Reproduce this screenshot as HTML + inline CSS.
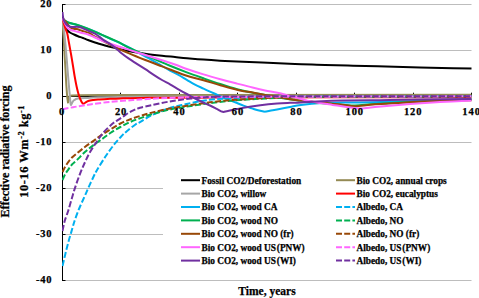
<!DOCTYPE html><html><head><meta charset="utf-8"><style>html,body{margin:0;padding:0;background:#fff;}svg{display:block;}</style></head><body>
<svg width="479" height="298" viewBox="0 0 479 298">
<rect width="479" height="298" fill="#fff"/>
<line x1="62" y1="4.5" x2="471.5" y2="4.5" stroke="#BDBDBD" stroke-width="1"/>
<line x1="62" y1="50.5" x2="471.5" y2="50.5" stroke="#BDBDBD" stroke-width="1"/>
<line x1="62" y1="142.5" x2="471.5" y2="142.5" stroke="#BDBDBD" stroke-width="1"/>
<line x1="62" y1="188.5" x2="471.5" y2="188.5" stroke="#BDBDBD" stroke-width="1"/>
<line x1="62" y1="234.5" x2="471.5" y2="234.5" stroke="#BDBDBD" stroke-width="1"/>
<line x1="62" y1="280.5" x2="471.5" y2="280.5" stroke="#BDBDBD" stroke-width="1"/>
<line x1="62" y1="4.5" x2="65.5" y2="4.5" stroke="#000" stroke-width="1"/>
<line x1="62" y1="50.5" x2="65.5" y2="50.5" stroke="#000" stroke-width="1"/>
<line x1="62" y1="96.5" x2="65.5" y2="96.5" stroke="#000" stroke-width="1"/>
<line x1="62" y1="142.5" x2="65.5" y2="142.5" stroke="#000" stroke-width="1"/>
<line x1="62" y1="188.5" x2="65.5" y2="188.5" stroke="#000" stroke-width="1"/>
<line x1="62" y1="234.5" x2="65.5" y2="234.5" stroke="#000" stroke-width="1"/>
<line x1="62" y1="280.5" x2="65.5" y2="280.5" stroke="#000" stroke-width="1"/>
<line x1="62" y1="96.5" x2="471.5" y2="96.5" stroke="#000" stroke-width="1"/>
<line x1="120.5" y1="92.70" x2="120.5" y2="96.50" stroke="#000" stroke-width="1"/>
<line x1="179.5" y1="92.70" x2="179.5" y2="96.50" stroke="#000" stroke-width="1"/>
<line x1="237.5" y1="92.70" x2="237.5" y2="96.50" stroke="#000" stroke-width="1"/>
<line x1="296.5" y1="92.70" x2="296.5" y2="96.50" stroke="#000" stroke-width="1"/>
<line x1="354.5" y1="92.70" x2="354.5" y2="96.50" stroke="#000" stroke-width="1"/>
<line x1="413.5" y1="92.70" x2="413.5" y2="96.50" stroke="#000" stroke-width="1"/>
<line x1="471.5" y1="92.70" x2="471.5" y2="96.50" stroke="#000" stroke-width="1"/>
<line x1="62.5" y1="4.00" x2="62.5" y2="281.00" stroke="#000" stroke-width="1"/>
<clipPath id="pc"><rect x="62" y="0" width="411" height="298"/></clipPath>
<g clip-path="url(#pc)" fill="none" stroke-width="2" stroke-linejoin="round">
<path d="M62.50,18.00 C62.67,18.75 63.08,21.00 63.50,22.50 C63.92,24.00 64.42,25.75 65.00,27.00 C65.58,28.25 66.17,29.08 67.00,30.00 C67.83,30.92 68.83,31.75 70.00,32.50 C71.17,33.25 72.67,33.88 74.00,34.50 C75.33,35.12 76.50,35.62 78.00,36.20 C79.50,36.78 81.33,37.37 83.00,38.00 C84.67,38.63 86.00,39.25 88.00,40.00 C90.00,40.75 92.17,41.58 95.00,42.50 C97.83,43.42 102.17,44.68 105.00,45.50 C107.83,46.32 109.50,46.78 112.00,47.40 C114.50,48.02 117.25,48.62 120.00,49.20 C122.75,49.78 125.67,50.37 128.50,50.90 C131.33,51.43 134.25,51.93 137.00,52.40 C139.75,52.87 140.83,53.15 145.00,53.70 C149.17,54.25 157.00,55.15 162.00,55.70 C167.00,56.25 170.83,56.58 175.00,57.00 C179.17,57.42 182.25,57.77 187.00,58.20 C191.75,58.63 198.00,59.18 203.50,59.60 C209.00,60.02 214.42,60.37 220.00,60.70 C225.58,61.03 230.00,61.28 237.00,61.60 C244.00,61.92 255.08,62.32 262.00,62.60 C268.92,62.88 273.00,63.08 278.50,63.30 C284.00,63.52 289.42,63.70 295.00,63.90 C300.58,64.10 307.00,64.33 312.00,64.50 C317.00,64.67 318.17,64.70 325.00,64.90 C331.83,65.10 342.83,65.42 353.00,65.70 C363.17,65.98 374.83,66.30 386.00,66.60 C397.17,66.90 408.83,67.23 420.00,67.50 C431.17,67.77 444.42,68.02 453.00,68.20 C461.58,68.38 468.42,68.53 471.50,68.60" stroke="#000000"/>
<path d="M62.50,18.00 L63.00,30.00 L63.80,40.00 L64.50,54.00 L65.50,70.00 L66.30,85.00 L67.20,97.00 L68.00,102.50 L68.80,99.50 L69.60,96.00 L72.00,95.50 L80.00,95.30 L100.00,95.10 L200.00,95.00 L471.50,94.80" stroke="#948A54"/>
<path d="M62.50,18.00 C62.75,20.00 63.50,25.50 64.00,30.00 C64.50,34.50 65.03,40.00 65.50,45.00 C65.97,50.00 66.38,55.00 66.80,60.00 C67.22,65.00 67.58,70.00 68.00,75.00 C68.42,80.00 68.93,85.83 69.30,90.00 C69.67,94.17 69.95,97.50 70.20,100.00 C70.45,102.50 70.47,104.57 70.80,105.00 C71.13,105.43 71.67,103.38 72.20,102.60 C72.73,101.82 73.03,100.97 74.00,100.30 C74.97,99.63 75.67,99.00 78.00,98.60 C80.33,98.20 84.67,98.12 88.00,97.90 C91.33,97.68 89.33,97.50 98.00,97.30 C106.67,97.10 114.67,96.83 140.00,96.70 C165.33,96.57 194.75,96.53 250.00,96.50 C305.25,96.47 434.58,96.50 471.50,96.50" stroke="#A6A6A6"/>
<path d="M62.50,18.00 C62.75,19.00 63.42,22.00 64.00,24.00 C64.58,26.00 65.43,28.33 66.00,30.00 C66.57,31.67 66.90,31.83 67.40,34.00 C67.90,36.17 68.40,39.67 69.00,43.00 C69.60,46.33 70.33,50.17 71.00,54.00 C71.67,57.83 72.40,62.33 73.00,66.00 C73.60,69.67 74.02,72.67 74.60,76.00 C75.18,79.33 75.90,83.17 76.50,86.00 C77.10,88.83 77.62,90.92 78.20,93.00 C78.78,95.08 79.30,96.80 80.00,98.50 C80.70,100.20 81.73,102.37 82.40,103.20 C83.07,104.03 83.40,103.67 84.00,103.50 C84.60,103.33 85.30,102.62 86.00,102.20 C86.70,101.78 87.03,101.37 88.20,101.00 C89.37,100.63 91.37,100.27 93.00,100.00 C94.63,99.73 95.17,99.60 98.00,99.40 C100.83,99.20 106.33,98.97 110.00,98.80 C113.67,98.63 115.00,98.55 120.00,98.40 C125.00,98.25 124.17,98.07 140.00,97.90 C155.83,97.73 159.75,97.50 215.00,97.40 C270.25,97.30 428.75,97.32 471.50,97.30" stroke="#FF0000"/>
<path d="M62.50,18.00 C62.75,18.33 63.42,19.42 64.00,20.00 C64.58,20.58 65.00,20.97 66.00,21.50 C67.00,22.03 68.17,22.62 70.00,23.20 C71.83,23.78 74.50,24.23 77.00,25.00 C79.50,25.77 82.17,26.77 85.00,27.80 C87.83,28.83 91.17,30.02 94.00,31.20 C96.83,32.38 99.33,33.67 102.00,34.90 C104.67,36.13 107.17,37.32 110.00,38.60 C112.83,39.88 116.17,41.28 119.00,42.60 C121.83,43.92 124.00,44.97 127.00,46.50 C130.00,48.03 134.00,50.17 137.00,51.80 C140.00,53.43 142.22,54.75 145.00,56.30 C147.78,57.85 150.87,59.48 153.70,61.10 C156.53,62.72 159.28,64.43 162.00,66.00 C164.72,67.57 167.33,69.07 170.00,70.50 C172.67,71.93 175.20,73.05 178.00,74.60 C180.80,76.15 183.97,78.13 186.80,79.80 C189.63,81.47 192.22,83.13 195.00,84.60 C197.78,86.07 201.00,87.43 203.50,88.60 C206.00,89.77 207.52,90.48 210.00,91.60 C212.48,92.72 215.60,94.07 218.40,95.30 C221.20,96.53 224.00,97.83 226.80,99.00 C229.60,100.17 232.42,101.20 235.20,102.30 C237.98,103.40 240.72,104.58 243.50,105.60 C246.28,106.62 249.48,107.62 251.90,108.40 C254.32,109.18 255.82,109.73 258.00,110.30 C260.18,110.87 263.83,111.55 265.00,111.80" stroke="#00B0F0"/>
<path d="M265.00,111.80 C266.00,111.60 268.98,111.00 271.00,110.60 C273.02,110.20 273.93,110.02 277.10,109.40 C280.27,108.78 286.03,107.65 290.00,106.90 C293.97,106.15 295.60,105.55 300.90,104.90 C306.20,104.25 314.85,103.38 321.80,103.00 C328.75,102.62 336.23,102.70 342.60,102.60 C348.97,102.50 350.43,102.58 360.00,102.40 C369.57,102.22 388.33,101.83 400.00,101.50 C411.67,101.17 418.08,100.72 430.00,100.40 C441.92,100.08 464.58,99.73 471.50,99.60" stroke="#00B0F0"/>
<path d="M62.50,266.00 C62.83,264.58 63.80,260.42 64.50,257.50 C65.20,254.58 65.98,251.33 66.70,248.50 C67.42,245.67 68.10,243.02 68.80,240.50 C69.50,237.98 70.27,235.57 70.90,233.40 C71.53,231.23 72.03,229.45 72.60,227.50 C73.17,225.55 73.32,224.58 74.30,221.70 C75.28,218.82 76.82,214.35 78.50,210.20 C80.18,206.05 82.73,200.57 84.40,196.80 C86.07,193.03 86.97,190.98 88.50,187.60 C90.03,184.22 92.20,179.40 93.60,176.50 C95.00,173.60 94.95,173.48 96.90,170.20 C98.85,166.92 102.50,160.98 105.30,156.80 C108.10,152.62 111.05,148.48 113.70,145.10 C116.35,141.72 118.97,138.85 121.20,136.50 C123.43,134.15 124.72,133.00 127.10,131.00 C129.48,129.00 133.35,125.97 135.50,124.50 C137.65,123.03 137.28,123.75 140.00,122.20 C142.72,120.65 147.05,117.50 151.80,115.20 C156.55,112.90 162.92,110.22 168.50,108.40 C174.08,106.58 179.70,105.55 185.30,104.30 C190.90,103.05 197.15,101.73 202.10,100.90 C207.05,100.07 208.68,99.82 215.00,99.30 C221.32,98.78 229.17,98.22 240.00,97.80 C250.83,97.38 241.42,97.05 280.00,96.80 C318.58,96.55 439.58,96.38 471.50,96.30" stroke="#00B0F0" stroke-dasharray="6 2.3"/>
<path d="M62.50,18.00 C62.75,18.33 63.42,19.45 64.00,20.00 C64.58,20.55 65.00,20.80 66.00,21.30 C67.00,21.80 68.20,22.42 70.00,23.00 C71.80,23.58 74.27,24.00 76.80,24.80 C79.33,25.60 82.42,26.73 85.20,27.80 C87.98,28.87 90.72,30.03 93.50,31.20 C96.28,32.37 99.10,33.58 101.90,34.80 C104.70,36.02 107.50,37.27 110.30,38.50 C113.10,39.73 115.90,40.82 118.70,42.20 C121.50,43.58 124.30,45.38 127.10,46.80 C129.90,48.22 132.47,49.33 135.50,50.70 C138.53,52.07 142.22,53.65 145.30,55.00 C148.38,56.35 151.20,57.58 154.00,58.80 C156.80,60.02 159.43,61.13 162.10,62.30 C164.77,63.47 165.88,64.12 170.00,65.80 C174.12,67.48 181.22,70.32 186.80,72.40 C192.38,74.48 197.92,76.37 203.50,78.30 C209.08,80.23 214.70,82.18 220.30,84.00 C225.90,85.82 232.15,87.83 237.10,89.20 C242.05,90.57 245.35,91.23 250.00,92.20 C254.65,93.17 260.00,94.07 265.00,95.00 C270.00,95.93 275.00,96.97 280.00,97.80 C285.00,98.63 290.00,99.38 295.00,100.00 C300.00,100.62 305.83,101.00 310.00,101.50 C314.17,102.00 315.00,102.50 320.00,103.00 C325.00,103.50 334.17,104.08 340.00,104.50 C345.83,104.92 349.17,105.58 355.00,105.50 C360.83,105.42 365.83,104.58 375.00,104.00 C384.17,103.42 393.92,102.75 410.00,102.00 C426.08,101.25 461.25,99.92 471.50,99.50" stroke="#00B050"/>
<path d="M62.50,180.00 C62.92,179.08 64.02,176.27 65.00,174.50 C65.98,172.73 67.23,171.07 68.40,169.40 C69.57,167.73 70.60,166.03 72.00,164.50 C73.40,162.97 74.60,162.32 76.80,160.20 C79.00,158.08 82.42,154.32 85.20,151.80 C87.98,149.28 90.72,147.20 93.50,145.10 C96.28,143.00 99.10,141.22 101.90,139.20 C104.70,137.18 107.22,135.03 110.30,133.00 C113.38,130.97 117.05,128.85 120.40,127.00 C123.75,125.15 127.13,123.35 130.40,121.90 C133.67,120.45 136.43,119.57 140.00,118.30 C143.57,117.03 147.05,115.72 151.80,114.30 C156.55,112.88 162.92,111.05 168.50,109.80 C174.08,108.55 179.70,107.72 185.30,106.80 C190.90,105.88 197.15,105.00 202.10,104.30 C207.05,103.60 208.68,103.32 215.00,102.60 C221.32,101.88 229.17,100.80 240.00,100.00 C250.83,99.20 266.67,98.32 280.00,97.80 C293.33,97.28 288.08,97.15 320.00,96.90 C351.92,96.65 446.25,96.40 471.50,96.30" stroke="#00B050" stroke-dasharray="6 2.3"/>
<path d="M62.50,18.00 C63.08,18.67 64.92,20.67 66.00,22.00 C67.08,23.33 68.00,24.92 69.00,26.00 C70.00,27.08 70.70,27.98 72.00,28.50 C73.30,29.02 75.45,28.83 76.80,29.10 C78.15,29.37 78.90,29.72 80.10,30.10 C81.30,30.48 82.45,30.90 84.00,31.40 C85.55,31.90 87.57,32.22 89.40,33.10 C91.23,33.98 91.27,34.63 95.00,36.70 C98.73,38.77 106.22,42.77 111.80,45.50 C117.38,48.23 122.92,50.68 128.50,53.10 C134.08,55.52 139.70,57.78 145.30,60.00 C150.90,62.22 157.98,64.82 162.10,66.40 C166.22,67.98 165.88,67.93 170.00,69.50 C174.12,71.07 181.22,74.02 186.80,75.80 C192.38,77.58 197.92,78.63 203.50,80.20 C209.08,81.77 214.22,83.48 220.30,85.20 C226.38,86.92 234.63,89.30 240.00,90.50 C245.37,91.70 248.32,91.67 252.50,92.40 C256.68,93.13 260.92,94.17 265.10,94.90 C269.28,95.63 273.43,96.07 277.60,96.80 C281.77,97.53 286.37,98.68 290.10,99.30 C293.83,99.92 295.02,99.98 300.00,100.50 C304.98,101.02 314.57,101.87 320.00,102.40 C325.43,102.93 328.42,103.28 332.60,103.70 C336.78,104.12 341.37,104.48 345.10,104.90 C348.83,105.32 350.02,106.30 355.00,106.20 C359.98,106.10 365.83,104.97 375.00,104.30 C384.17,103.63 400.83,102.70 410.00,102.20 C419.17,101.70 419.75,101.62 430.00,101.30 C440.25,100.98 464.58,100.47 471.50,100.30" stroke="#984807"/>
<path d="M62.50,172.00 C62.92,171.17 64.02,168.70 65.00,167.00 C65.98,165.30 67.23,163.38 68.40,161.80 C69.57,160.22 70.60,158.90 72.00,157.50 C73.40,156.10 74.60,155.20 76.80,153.40 C79.00,151.60 82.42,148.78 85.20,146.70 C87.98,144.62 90.98,142.72 93.50,140.90 C96.02,139.08 97.50,137.72 100.30,135.80 C103.10,133.88 106.95,131.45 110.30,129.40 C113.65,127.35 117.05,125.20 120.40,123.50 C123.75,121.80 127.13,120.45 130.40,119.20 C133.67,117.95 136.43,117.10 140.00,116.00 C143.57,114.90 147.05,113.80 151.80,112.60 C156.55,111.40 162.92,109.92 168.50,108.80 C174.08,107.68 179.70,106.80 185.30,105.90 C190.90,105.00 197.15,104.10 202.10,103.40 C207.05,102.70 208.68,102.35 215.00,101.70 C221.32,101.05 229.17,100.20 240.00,99.50 C250.83,98.80 266.67,97.95 280.00,97.50 C293.33,97.05 288.08,97.00 320.00,96.80 C351.92,96.60 446.25,96.38 471.50,96.30" stroke="#984807" stroke-dasharray="6 2.3"/>
<path d="M62.50,18.00 C62.75,18.58 63.50,20.42 64.00,21.50 C64.50,22.58 65.00,23.58 65.50,24.50 C66.00,25.42 66.50,26.28 67.00,27.00 C67.50,27.72 67.83,28.30 68.50,28.80 C69.17,29.30 69.75,29.57 71.00,30.00 C72.25,30.43 74.33,30.93 76.00,31.40 C77.67,31.87 79.00,32.28 81.00,32.80 C83.00,33.32 85.67,33.72 88.00,34.50 C90.33,35.28 92.50,36.42 95.00,37.50 C97.50,38.58 100.20,39.87 103.00,41.00 C105.80,42.13 107.55,42.87 111.80,44.30 C116.05,45.73 122.92,47.82 128.50,49.60 C134.08,51.38 139.70,53.23 145.30,55.00 C150.90,56.77 157.15,58.62 162.10,60.20 C167.05,61.78 170.88,63.03 175.00,64.50 C179.12,65.97 182.05,67.35 186.80,69.00 C191.55,70.65 197.92,72.70 203.50,74.40 C209.08,76.10 214.70,77.67 220.30,79.20 C225.90,80.73 231.73,82.22 237.10,83.60 C242.47,84.98 247.83,86.37 252.50,87.50 C257.17,88.63 260.92,89.52 265.10,90.40 C269.28,91.28 273.43,91.87 277.60,92.80 C281.77,93.73 286.37,95.05 290.10,96.00 C293.83,96.95 297.10,97.70 300.00,98.50 C302.90,99.30 304.15,100.05 307.50,100.80 C310.85,101.55 315.92,102.32 320.10,103.00 C324.28,103.68 328.43,104.27 332.60,104.90 C336.77,105.53 341.37,106.28 345.10,106.80 C348.83,107.32 352.10,107.72 355.00,108.00 C357.90,108.28 359.17,108.67 362.50,108.50 C365.83,108.33 367.08,107.75 375.00,107.00 C382.92,106.25 399.17,104.83 410.00,104.00 C420.83,103.17 429.75,102.58 440.00,102.00 C450.25,101.42 466.25,100.75 471.50,100.50" stroke="#FF66FF"/>
<path d="M62.50,109.30 C64.27,108.95 69.65,107.82 73.10,107.20 C76.55,106.58 79.80,106.13 83.20,105.60 C86.60,105.07 88.98,104.63 93.50,104.00 C98.02,103.37 104.70,102.38 110.30,101.80 C115.90,101.22 122.15,100.88 127.10,100.50 C132.05,100.12 134.52,99.87 140.00,99.50 C145.48,99.13 152.50,98.63 160.00,98.30 C167.50,97.97 175.83,97.72 185.00,97.50 C194.17,97.28 167.25,97.20 215.00,97.00 C262.75,96.80 428.75,96.42 471.50,96.30" stroke="#FF66FF" stroke-dasharray="6 2.3"/>
<path d="M62.50,12.00 C62.55,12.50 62.67,13.92 62.80,15.00 C62.93,16.08 63.07,17.47 63.30,18.50 C63.53,19.53 63.83,20.38 64.20,21.20 C64.57,22.02 64.95,22.68 65.50,23.40 C66.05,24.12 66.75,24.97 67.50,25.50 C68.25,26.03 69.02,26.33 70.00,26.60 C70.98,26.87 72.23,27.07 73.40,27.10 C74.57,27.13 75.73,26.73 77.00,26.80 C78.27,26.87 79.83,27.17 81.00,27.50 C82.17,27.83 82.75,28.25 84.00,28.80 C85.25,29.35 86.92,30.10 88.50,30.80 C90.08,31.50 92.08,32.30 93.50,33.00 C94.92,33.70 95.35,33.87 97.00,35.00 C98.65,36.13 100.93,38.12 103.40,39.80 C105.87,41.48 109.00,43.03 111.80,45.10 C114.60,47.17 117.42,49.98 120.20,52.20 C122.98,54.42 125.72,56.47 128.50,58.40 C131.28,60.33 134.10,62.00 136.90,63.80 C139.70,65.60 142.50,67.37 145.30,69.20 C148.10,71.03 150.92,73.00 153.70,74.80 C156.48,76.60 159.28,78.40 162.00,80.00 C164.72,81.60 167.27,82.85 170.00,84.40 C172.73,85.95 175.60,87.70 178.40,89.30 C181.20,90.90 183.53,92.22 186.80,94.00 C190.07,95.78 194.13,98.08 198.00,100.00 C201.87,101.92 206.88,104.03 210.00,105.50 C213.12,106.97 214.60,107.75 216.70,108.80 C218.80,109.85 220.92,111.40 222.60,111.80 C224.28,112.20 223.32,111.88 226.80,111.20 C230.28,110.52 237.92,108.70 243.50,107.70 C249.08,106.70 254.70,105.90 260.30,105.20 C265.90,104.50 272.15,103.90 277.10,103.50 C282.05,103.10 286.03,102.98 290.00,102.80 C293.97,102.62 295.60,102.67 300.90,102.40 C306.20,102.13 314.85,101.50 321.80,101.20 C328.75,100.90 332.90,100.77 342.60,100.60 C352.30,100.43 367.10,100.40 380.00,100.20 C392.90,100.00 404.75,99.60 420.00,99.40 C435.25,99.20 462.92,99.07 471.50,99.00" stroke="#7030A0"/>
<path d="M62.50,231.00 C62.65,230.25 63.12,227.83 63.40,226.50 C63.68,225.17 63.93,224.08 64.20,223.00 C64.47,221.92 64.30,222.13 65.00,220.00 C65.70,217.87 67.27,213.78 68.40,210.20 C69.53,206.62 70.68,202.27 71.80,198.50 C72.92,194.73 73.72,191.75 75.10,187.60 C76.48,183.45 78.42,177.90 80.10,173.60 C81.78,169.30 83.52,165.43 85.20,161.80 C86.88,158.17 88.25,155.18 90.20,151.80 C92.15,148.42 94.77,144.63 96.90,141.50 C99.03,138.37 100.52,135.87 103.00,133.00 C105.48,130.13 109.35,126.45 111.80,124.30 C114.25,122.15 115.75,121.42 117.70,120.10 C119.65,118.78 121.68,117.62 123.50,116.40 C125.32,115.18 126.88,113.83 128.60,112.80 C130.32,111.77 131.90,111.03 133.80,110.20 C135.70,109.37 137.00,108.65 140.00,107.80 C143.00,106.95 147.05,106.12 151.80,105.10 C156.55,104.08 162.92,102.68 168.50,101.70 C174.08,100.72 179.70,99.90 185.30,99.20 C190.90,98.50 197.15,97.90 202.10,97.50 C207.05,97.10 208.68,96.98 215.00,96.80 C221.32,96.62 197.25,96.50 240.00,96.40 C282.75,96.30 432.92,96.23 471.50,96.20" stroke="#7030A0" stroke-dasharray="6 2.3"/>
</g>
<text x="52.3" y="7.4" text-anchor="end" letter-spacing="0.8" font-size="10.5" font-family="Liberation Serif" font-weight="bold" stroke="#000" stroke-width="0.25">20</text>
<text x="52.3" y="53.4" text-anchor="end" letter-spacing="0.8" font-size="10.5" font-family="Liberation Serif" font-weight="bold" stroke="#000" stroke-width="0.25">10</text>
<text x="52.3" y="99.4" text-anchor="end" letter-spacing="0.8" font-size="10.5" font-family="Liberation Serif" font-weight="bold" stroke="#000" stroke-width="0.25">0</text>
<text x="52.3" y="145.4" text-anchor="end" letter-spacing="0.8" font-size="10.5" font-family="Liberation Serif" font-weight="bold" stroke="#000" stroke-width="0.25">10</text>
<text x="36.1" y="145.4" font-size="10.5" font-family="Liberation Serif" font-weight="bold" stroke="#000" stroke-width="0.25">-</text>
<text x="52.3" y="191.4" text-anchor="end" letter-spacing="0.8" font-size="10.5" font-family="Liberation Serif" font-weight="bold" stroke="#000" stroke-width="0.25">20</text>
<text x="36.1" y="191.4" font-size="10.5" font-family="Liberation Serif" font-weight="bold" stroke="#000" stroke-width="0.25">-</text>
<text x="52.3" y="237.4" text-anchor="end" letter-spacing="0.8" font-size="10.5" font-family="Liberation Serif" font-weight="bold" stroke="#000" stroke-width="0.25">30</text>
<text x="36.1" y="237.4" font-size="10.5" font-family="Liberation Serif" font-weight="bold" stroke="#000" stroke-width="0.25">-</text>
<text x="52.3" y="283.4" text-anchor="end" letter-spacing="0.8" font-size="10.5" font-family="Liberation Serif" font-weight="bold" stroke="#000" stroke-width="0.25">40</text>
<text x="36.1" y="283.4" font-size="10.5" font-family="Liberation Serif" font-weight="bold" stroke="#000" stroke-width="0.25">-</text>
<text x="62.0" y="114.6" text-anchor="middle" letter-spacing="0.9" font-size="10.5" font-family="Liberation Serif" font-weight="bold" stroke="#000" stroke-width="0.25">0</text>
<text x="121.1" y="114.6" text-anchor="middle" letter-spacing="0.9" font-size="10.5" font-family="Liberation Serif" font-weight="bold" stroke="#000" stroke-width="0.25">20</text>
<text x="179.5" y="114.6" text-anchor="middle" letter-spacing="0.9" font-size="10.5" font-family="Liberation Serif" font-weight="bold" stroke="#000" stroke-width="0.25">40</text>
<text x="237.9" y="114.6" text-anchor="middle" letter-spacing="0.9" font-size="10.5" font-family="Liberation Serif" font-weight="bold" stroke="#000" stroke-width="0.25">60</text>
<text x="296.4" y="114.6" text-anchor="middle" letter-spacing="0.9" font-size="10.5" font-family="Liberation Serif" font-weight="bold" stroke="#000" stroke-width="0.25">80</text>
<text x="354.8" y="114.6" text-anchor="middle" letter-spacing="0.9" font-size="10.5" font-family="Liberation Serif" font-weight="bold" stroke="#000" stroke-width="0.25">100</text>
<text x="413.2" y="114.6" text-anchor="middle" letter-spacing="0.9" font-size="10.5" font-family="Liberation Serif" font-weight="bold" stroke="#000" stroke-width="0.25">120</text>
<text x="471.6" y="114.6" text-anchor="middle" letter-spacing="0.9" font-size="10.5" font-family="Liberation Serif" font-weight="bold" stroke="#000" stroke-width="0.25">140</text>
<rect x="163" y="150" width="310" height="126" fill="#fff"/>
<line x1="181" y1="180.2" x2="200" y2="180.2" stroke="#000000" stroke-width="2"/>
<text x="201.5" y="183.6" font-size="9.3" font-family="Liberation Serif" font-weight="bold" stroke="#000" stroke-width="0.25">Fossil CO2/Deforestation</text>
<line x1="336" y1="180.2" x2="355" y2="180.2" stroke="#948A54" stroke-width="2"/>
<text x="356.5" y="183.6" font-size="9.3" font-family="Liberation Serif" font-weight="bold" stroke="#000" stroke-width="0.25">Bio CO2, annual crops</text>
<line x1="181" y1="193.6" x2="200" y2="193.6" stroke="#A6A6A6" stroke-width="2"/>
<text x="201.5" y="197.0" font-size="9.3" font-family="Liberation Serif" font-weight="bold" stroke="#000" stroke-width="0.25">Bio CO2, willow</text>
<line x1="336" y1="193.6" x2="355" y2="193.6" stroke="#FF0000" stroke-width="2"/>
<text x="356.5" y="197.0" font-size="9.3" font-family="Liberation Serif" font-weight="bold" stroke="#000" stroke-width="0.25">Bio CO2, eucalyptus</text>
<line x1="181" y1="207.0" x2="200" y2="207.0" stroke="#00B0F0" stroke-width="2"/>
<text x="201.5" y="210.4" font-size="9.3" font-family="Liberation Serif" font-weight="bold" stroke="#000" stroke-width="0.25">Bio CO2, wood CA</text>
<line x1="336" y1="207.0" x2="355" y2="207.0" stroke="#00B0F0" stroke-width="2" stroke-dasharray="6 2.2"/>
<text x="356.5" y="210.4" font-size="9.3" font-family="Liberation Serif" font-weight="bold" stroke="#000" stroke-width="0.25">Albedo, CA</text>
<line x1="181" y1="220.39999999999998" x2="200" y2="220.39999999999998" stroke="#00B050" stroke-width="2"/>
<text x="201.5" y="223.8" font-size="9.3" font-family="Liberation Serif" font-weight="bold" stroke="#000" stroke-width="0.25">Bio CO2, wood NO</text>
<line x1="336" y1="220.39999999999998" x2="355" y2="220.39999999999998" stroke="#00B050" stroke-width="2" stroke-dasharray="6 2.2"/>
<text x="356.5" y="223.8" font-size="9.3" font-family="Liberation Serif" font-weight="bold" stroke="#000" stroke-width="0.25">Albedo, NO</text>
<line x1="181" y1="233.79999999999998" x2="200" y2="233.79999999999998" stroke="#984807" stroke-width="2"/>
<text x="201.5" y="237.2" font-size="9.3" font-family="Liberation Serif" font-weight="bold" stroke="#000" stroke-width="0.25">Bio CO2, wood NO (fr)</text>
<line x1="336" y1="233.79999999999998" x2="355" y2="233.79999999999998" stroke="#984807" stroke-width="2" stroke-dasharray="6 2.2"/>
<text x="356.5" y="237.2" font-size="9.3" font-family="Liberation Serif" font-weight="bold" stroke="#000" stroke-width="0.25">Albedo, NO (fr)</text>
<line x1="181" y1="247.2" x2="200" y2="247.2" stroke="#FF66FF" stroke-width="2"/>
<text x="201.5" y="250.6" font-size="9.3" font-family="Liberation Serif" font-weight="bold" stroke="#000" stroke-width="0.25">Bio CO2, wood US<tspan dx="0.9">(PNW)</tspan></text>
<line x1="336" y1="247.2" x2="355" y2="247.2" stroke="#FF66FF" stroke-width="2" stroke-dasharray="6 2.2"/>
<text x="356.5" y="250.6" font-size="9.3" font-family="Liberation Serif" font-weight="bold" stroke="#000" stroke-width="0.25">Albedo, US<tspan dx="0.9">(PNW)</tspan></text>
<line x1="181" y1="260.6" x2="200" y2="260.6" stroke="#7030A0" stroke-width="2"/>
<text x="201.5" y="264.0" font-size="9.3" font-family="Liberation Serif" font-weight="bold" stroke="#000" stroke-width="0.25">Bio CO2, wood US<tspan dx="0.9">(WI)</tspan></text>
<line x1="336" y1="260.6" x2="355" y2="260.6" stroke="#7030A0" stroke-width="2" stroke-dasharray="6 2.2"/>
<text x="356.5" y="264.0" font-size="9.3" font-family="Liberation Serif" font-weight="bold" stroke="#000" stroke-width="0.25">Albedo, US<tspan dx="0.9">(WI)</tspan></text>
<text x="267" y="295" text-anchor="middle" font-size="11.5" font-family="Liberation Serif" font-weight="bold" stroke="#000" stroke-width="0.25">Time, years</text>
<text transform="translate(9.2,151.5) rotate(-90)" text-anchor="middle" font-size="12.2" letter-spacing="-0.15" font-family="Liberation Serif" font-weight="bold" stroke="#000" stroke-width="0.25">Effective radiative forcing</text>
<text transform="translate(28,151.5) rotate(-90)" text-anchor="middle" font-size="12.5" letter-spacing="0.5" font-family="Liberation Serif" font-weight="bold" stroke="#000" stroke-width="0.25">10-16 Wm<tspan font-size="8.25" dy="-4.5">-2</tspan><tspan dy="4.5"> kg</tspan><tspan font-size="8.25" dy="-4.5">-1</tspan></text>
</svg></body></html>
